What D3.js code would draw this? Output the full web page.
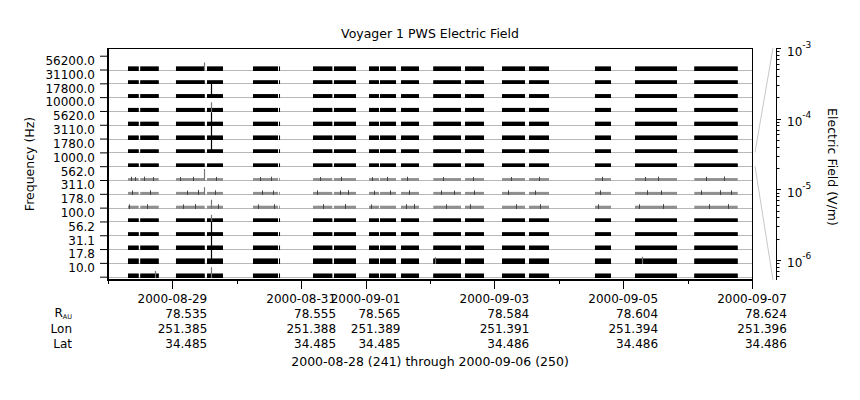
<!DOCTYPE html>
<html><head><meta charset="utf-8">
<script src="https://cdn.jsdelivr.net/npm/d3@7"></script>
<style>
body{margin:0;background:#fff}
svg{display:block}
text{font-family:"DejaVu Sans",sans-serif;font-size:12px;fill:#000}
.wide{font-size:12.5px}
</style></head>
<body><svg id="c" width="860" height="400"></svg>
<script>
// ---------------- data ----------------
const channels = ["56200.0","31100.0","17800.0","10000.0","5620.0","3110.0","1780.0","1000.0",
                  "562.0","311.0","178.0","100.0","56.2","31.1","17.8","10.0"];
// typical (dense) level per channel, V/m
const levels = [2.7e-6,2.7e-6,2.7e-6,2.7e-6,2.7e-6,2.7e-6,2.7e-6,2.3e-6,
                5.2e-7,5.2e-7,5.2e-7,2.7e-6,2.6e-6,3.0e-6,5.5e-6,2.7e-6];
// upper envelope per channel, V/m
const peaks  = [2.7e-6,2.7e-6,2.7e-6,2.7e-6,2.7e-6,2.7e-6,2.7e-6,2.3e-6,
                1.5e-6,1.5e-6,1.5e-6,2.7e-6,3.1e-6,4.2e-6,5.5e-6,3.0e-6];
// data coverage intervals (UTC)
const segStart = ["2000-08-28T07:27","2000-08-28T12:02","2000-08-29T01:20","2000-08-29T12:54",
  "2000-08-30T06:02","2000-08-30T15:44","2000-08-31T04:24","2000-08-31T12:13","2000-09-01T01:16",
  "2000-09-01T05:22","2000-09-01T13:12","2000-09-02T01:14","2000-09-02T13:03","2000-09-03T02:50",
  "2000-09-03T12:54","2000-09-04T13:29","2000-09-05T04:24","2000-09-06T02:30"];
const segEnd = ["2000-08-28T11:26","2000-08-28T18:54","2000-08-29T12:02","2000-08-29T18:51",
  "2000-08-30T15:21","2000-08-30T16:06","2000-08-31T11:35","2000-08-31T20:25","2000-09-01T04:59",
  "2000-09-01T11:20","2000-09-01T19:54","2000-09-02T11:33","2000-09-02T20:07","2000-09-03T11:24",
  "2000-09-03T20:21","2000-09-04T19:27","2000-09-05T20:03","2000-09-06T18:40"];
// isolated spikes: [time, channel index, value V/m]
const spikes = [
  ["2000-08-29T11:53",0,2.4e-5],["2000-08-29T11:53",8,2.1e-4],["2000-08-29T11:53",9,2.0e-5],
  ["2000-08-29T14:30",2,8e-4],["2000-08-29T14:30",3,6e-5],["2000-08-29T14:30",4,5e-4],
  ["2000-08-29T14:30",5,8e-4],["2000-08-29T14:30",6,1e-3],["2000-08-29T14:30",10,4e-5],
  ["2000-08-29T14:30",11,2e-5],["2000-08-29T14:30",12,1e-3],["2000-08-29T14:30",13,8e-4],
  ["2000-08-29T14:30",14,8e-4],["2000-08-29T14:30",15,1e-4],
  ["2000-08-28T17:40",15,1.2e-5],["2000-09-05T07:00",14,1.5e-5],["2000-09-02T02:00",14,1.2e-5]
];
// small bursts in the quiet channels: [time, channel index, value V/m]
const bursts = [
  ["2000-08-28T08:30",8,3e-6],["2000-08-28T10:10",8,2.5e-6],["2000-08-28T13:20",8,3.2e-6],["2000-08-28T16:40",8,2.6e-6],
  ["2000-08-29T03:00",8,2.6e-6],["2000-08-29T07:30",8,3e-6],["2000-08-29T16:20",8,2.8e-6],["2000-08-30T08:40",8,2.6e-6],
  ["2000-08-30T12:40",8,3.1e-6],["2000-08-31T07:10",8,2.7e-6],["2000-08-31T15:00",8,3e-6],["2000-09-01T02:30",8,2.5e-6],
  ["2000-09-01T08:00",8,2.9e-6],["2000-09-01T15:30",8,3e-6],["2000-09-02T05:00",8,2.6e-6],["2000-09-02T16:00",8,2.8e-6],
  ["2000-09-03T06:00",8,2.7e-6],["2000-09-03T16:30",8,3e-6],["2000-09-04T16:00",8,3e-6],["2000-09-05T08:00",8,2.7e-6],
  ["2000-09-05T13:00",8,3.3e-6],["2000-09-06T07:00",8,3e-6],["2000-09-06T13:30",8,3.5e-6],
  ["2000-08-28T09:00",9,3.2e-6],["2000-08-28T15:30",9,3.6e-6],["2000-08-29T05:30",9,3e-6],["2000-08-29T09:40",9,4.5e-6],
  ["2000-08-29T16:00",9,3.5e-6],["2000-08-30T09:30",9,3.3e-6],["2000-08-30T13:20",9,3e-6],["2000-08-31T06:00",9,3.5e-6],
  ["2000-08-31T14:30",9,3.2e-6],["2000-08-31T17:30",9,3.8e-6],["2000-09-01T03:00",9,3e-6],["2000-09-01T09:00",9,3.4e-6],
  ["2000-09-01T16:00",9,3.6e-6],["2000-09-02T04:00",9,3.3e-6],["2000-09-02T09:00",9,3e-6],["2000-09-02T16:30",9,3.4e-6],
  ["2000-09-03T05:00",9,3.5e-6],["2000-09-03T15:00",9,3.2e-6],["2000-09-04T15:30",9,3.4e-6],["2000-09-05T09:00",9,3.6e-6],
  ["2000-09-05T14:00",9,3.2e-6],["2000-09-06T05:00",9,3.4e-6],["2000-09-06T12:00",9,3.6e-6],["2000-09-06T16:00",9,3.2e-6],
  ["2000-08-28T08:00",10,3e-6],["2000-08-28T14:30",10,3.3e-6],["2000-08-29T04:00",10,3e-6],["2000-08-29T08:30",10,3.5e-6],
  ["2000-08-29T17:00",10,3.2e-6],["2000-08-30T08:00",10,3e-6],["2000-08-30T14:00",10,3.3e-6],["2000-08-31T08:00",10,3.4e-6],
  ["2000-08-31T16:30",10,3.6e-6],["2000-09-01T02:00",10,3e-6],["2000-09-01T15:00",10,3.4e-6],["2000-09-01T18:00",10,3.6e-6],
  ["2000-09-02T06:00",10,3.2e-6],["2000-09-02T15:00",10,3.3e-6],["2000-09-03T08:00",10,3.2e-6],["2000-09-03T17:00",10,3.4e-6],
  ["2000-09-04T14:30",10,3.3e-6],["2000-09-05T06:00",10,3.2e-6],["2000-09-05T15:00",10,3.5e-6],["2000-09-06T08:00",10,3.3e-6],
  ["2000-09-06T15:00",10,3.5e-6]
];
// x axis labels and ephemeris
const tickDates = ["2000-08-29","2000-08-31","2000-09-01","2000-09-03","2000-09-05","2000-09-07"];
const rAU = ["78.535","78.555","78.565","78.584","78.604","78.624"];
const lon = ["251.385","251.388","251.389","251.391","251.394","251.396"];
const lat = ["34.485","34.485","34.485","34.486","34.486","34.486"];
const fieldTicks = [1e-3,1e-4,1e-5,1e-6];
const zoomChannel = 7;

// ---------------- layout ----------------
const svg = d3.select("#c");
const L = 108, R = 752, T = 48, B = 280;
const parseT = d3.utcParse("%Y-%m-%dT%H:%M");
const parseD = d3.utcParse("%Y-%m-%d");
const x = d3.scaleUtc().domain([parseD("2000-08-28"), parseD("2000-09-07")]).range([L, R]);
const yBand = d3.scaleLinear().domain([-0.558, 16.24]).range([T, B]);
const vDomain = [5.2e-7, 1e-3];
const vScale = i => d3.scaleLog().domain(vDomain).range([yBand(i + 1), yBand(i)]);
const rightAxisScale = d3.scaleLog().domain(vDomain).range([B, T]);

// title
svg.append("text").attr("class", "wide").attr("x", (L + R) / 2).attr("y", 38).attr("text-anchor", "middle")
  .text("Voyager 1 PWS Electric Field");

// row baselines
const g = svg.append("g");
g.selectAll("line.base").data(channels).join("line")
  .attr("x1", L).attr("x2", R)
  .attr("y1", (d, i) => Math.round(yBand(i + 1)) + 0.5).attr("y2", (d, i) => Math.round(yBand(i + 1)) + 0.5)
  .attr("stroke", "#b8b8b8").attr("stroke-width", 1);

// data bars
const segs = segStart.map((s, k) => ({s: parseT(s), e: parseT(segEnd[k])}));
channels.forEach((c, i) => {
  const v = vScale(i);
  const base = Math.round(yBand(i + 1)) + 1;
  const quiet = levels[i] <= vDomain[0];
  g.append("g").selectAll("rect").data(segs).join("rect")
    .attr("x", d => x(d.s)).attr("width", d => Math.max(1, x(d.e) - x(d.s)))
    .attr("y", v(peaks[i])).attr("height", base - v(peaks[i]))
    .attr("fill", quiet ? "#909090" : "#6e6e6e");
  if (!quiet) {
    g.append("g").selectAll("rect").data(segs).join("rect")
      .attr("x", d => x(d.s)).attr("width", d => Math.max(1, x(d.e) - x(d.s)))
      .attr("y", v(levels[i])).attr("height", base - v(levels[i]))
      .attr("fill", "#000");
  }
});
// bursts
g.append("g").selectAll("line").data(bursts).join("line")
  .attr("x1", d => Math.round(x(parseT(d[0]))) + 0.5).attr("x2", d => Math.round(x(parseT(d[0]))) + 0.5)
  .attr("y1", d => Math.round(yBand(d[1] + 1)) + 1).attr("y2", d => vScale(d[1])(d[2]))
  .attr("stroke", "#444").attr("stroke-width", 1);
// spikes
g.append("g").selectAll("line").data(spikes).join("line")
  .attr("x1", d => Math.round(x(parseT(d[0]))) + 0.5).attr("x2", d => Math.round(x(parseT(d[0]))) + 0.5)
  .attr("y1", d => Math.round(yBand(d[1] + 1)) + 1).attr("y2", d => vScale(d[1])(d[2]))
  .attr("stroke", d => d[2] > 1e-4 && d[1] !== 8 ? "#000" : "#777").attr("stroke-width", 1.2);

// frame
svg.append("line").attr("x1", L).attr("x2", R).attr("y1", T + 0.5).attr("y2", T + 0.5).attr("stroke", "#000");
svg.append("line").attr("x1", R + 0.5).attr("x2", R + 0.5).attr("y1", T).attr("y2", B).attr("stroke", "#000");

// left axis: tick marks at band edges
const leftAxis = svg.append("g").attr("transform", `translate(${L},0)`)
  .call(d3.axisLeft(yBand).tickValues(d3.range(0, 17)).tickSize(8).tickFormat(""));
leftAxis.select(".domain").remove();
leftAxis.selectAll("line").attr("stroke", "#000");
const leftLabels = svg.append("g").attr("transform", `translate(${L},0)`)
  .call(d3.axisLeft(yBand).tickValues(d3.range(0, 16).map(i => i + 0.36)).tickSize(0).tickPadding(13)
    .tickFormat((d) => channels[Math.round(d - 0.36)]));
leftLabels.select(".domain").remove();
leftLabels.selectAll("text").style("font-family", "DejaVu Sans").style("font-size", "12px");
svg.append("line").attr("x1", L).attr("x2", L).attr("y1", T).attr("y2", B + 1).attr("stroke", "#000").attr("stroke-width", 2);

// bottom axis
const minorDays = d3.utcDay.range(x.domain()[0], d3.utcDay.offset(x.domain()[1], 1));
svg.append("g").selectAll("line").data(minorDays).join("line")
  .attr("x1", d => Math.round(x(d)) + 0.5).attr("x2", d => Math.round(x(d)) + 0.5)
  .attr("y1", B).attr("y2", B + 4).attr("stroke", "#000");
const majors = tickDates.map(parseD);
svg.append("g").selectAll("line").data(majors).join("line")
  .attr("x1", d => Math.round(x(d)) + 0.5).attr("x2", d => Math.round(x(d)) + 0.5)
  .attr("y1", B).attr("y2", B + 9).attr("stroke", "#000");
svg.append("line").attr("x1", L - 1).attr("x2", R + 1).attr("y1", B).attr("y2", B).attr("stroke", "#000").attr("stroke-width", 2);

// tick label blocks
const lblG = svg.append("g");
majors.forEach((d, k) => {
  const cx = x(d);
  const t = lblG.append("text").attr("x", cx).attr("y", 303).attr("text-anchor", "middle").text(tickDates[k]);
  const bb = t.node().getBBox();
  const right = bb.x + bb.width;
  [rAU[k], lon[k], lat[k]].forEach((s, j) => {
    lblG.append("text").attr("x", right).attr("y", 318 + j * 15).attr("text-anchor", "end").text(s);
  });
});
const rl = lblG.append("text").attr("x", 72).attr("y", 317).attr("text-anchor", "end");
rl.append("tspan").text("R");
rl.append("tspan").attr("dy", 2).style("font-size", "6.5px").text("AU");
lblG.append("text").attr("x", 72).attr("y", 333).attr("text-anchor", "end").text("Lon");
lblG.append("text").attr("x", 72).attr("y", 348).attr("text-anchor", "end").text("Lat");
lblG.append("text").attr("class", "wide").attr("x", (L + R) / 2).attr("y", 366).attr("text-anchor", "middle")
  .text("2000-08-28 (241) through 2000-09-06 (250)");

// y axis title
svg.append("text").attr("class", "wide").attr("transform", `translate(34,${(T + B) / 2}) rotate(-90)`)
  .attr("text-anchor", "middle").text("Frequency (Hz)");

// right field axis
const AX = 776;
const minor = [];
for (let e = -7; e <= -3; e++) for (let m = 2; m < 10; m++) {
  const v = m * Math.pow(10, e);
  if (v >= vDomain[0] && v <= vDomain[1]) minor.push(v);
}
svg.append("line").attr("x1", AX + 0.5).attr("x2", AX + 0.5).attr("y1", T).attr("y2", B).attr("stroke", "#000");
svg.append("g").selectAll("line").data(minor).join("line")
  .attr("x1", AX).attr("x2", AX + 3.5)
  .attr("y1", d => Math.round(rightAxisScale(d)) + 0.5).attr("y2", d => Math.round(rightAxisScale(d)) + 0.5)
  .attr("stroke", "#000");
svg.append("g").selectAll("line").data(fieldTicks).join("line")
  .attr("x1", AX).attr("x2", AX + 5)
  .attr("y1", d => Math.round(rightAxisScale(d)) + 0.5).attr("y2", d => Math.round(rightAxisScale(d)) + 0.5)
  .attr("stroke", "#000");
fieldTicks.forEach(v => {
  const yy = rightAxisScale(v);
  const t = svg.append("text").attr("x", 787).attr("y", yy + 7.5);
  t.append("tspan").text("10");
  t.append("tspan").attr("dy", -8).style("font-size", "9px").text(String(Math.round(Math.log10(v))));
});
svg.append("text").attr("class", "wide").attr("transform", `translate(828,${(T + B) / 2 + 3}) rotate(90)`)
  .attr("text-anchor", "middle").text("Electric Field (V/m)");

// zoom connector from channel band to field axis
const zx0 = 755, zx1 = 773;
svg.append("line").attr("x1", zx0).attr("y1", yBand(zoomChannel)).attr("x2", zx1).attr("y2", T)
  .attr("stroke", "#c8c8c8");
svg.append("line").attr("x1", zx0).attr("y1", yBand(zoomChannel + 1)).attr("x2", zx1).attr("y2", B)
  .attr("stroke", "#c8c8c8");
</script></body></html>
